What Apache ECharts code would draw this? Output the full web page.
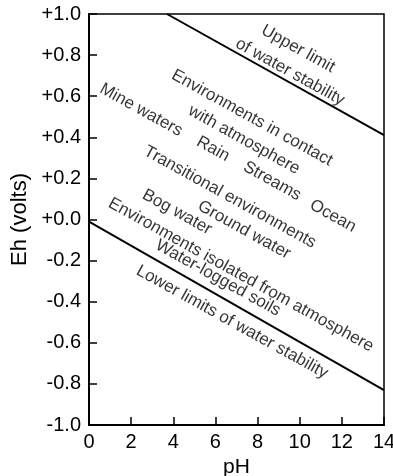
<!DOCTYPE html>
<html>
<head>
<meta charset="utf-8">
<script src="https://cdn.jsdelivr.net/npm/echarts@6/dist/echarts.min.js"></script>
<style>
  html, body { margin: 0; padding: 0; background: #fff; }
  #chart { width: 393px; height: 476px; }
</style>
</head>
<body>
<div id="chart"></div>
<script>
// Eh–pH field diagram for natural waters
var xTicks = [0, 2, 4, 6, 8, 10, 12, 14];
var yTicks = [-1.0, -0.8, -0.6, -0.4, -0.2, 0.0, 0.2, 0.4, 0.6, 0.8, 1.0];

// Stability limits of water: [pH, Eh]
var upperLimit = [[3.7, 1.0], [14, 0.41]];
var lowerLimit = [[0, -0.01], [14, -0.83]];

// Environment labels, anchored at [pH, Eh]
var labelTexts = [
  'Upper limit', 'of water stability',
  'Environments in contact', 'with atmosphere',
  'Mine waters', 'Rain', 'Streams', 'Ocean',
  'Transitional environments', 'Ground water', 'Bog water',
  'Environments isolated from atmosphere', 'Water-logged soils',
  'Lower limits of water stability'
];
var labelPH = [9.92, 9.54, 7.74, 7.36, 2.47, 5.89, 8.69, 11.58, 6.69, 7.36, 4.18, 7.21, 6.12, 6.79];
var labelEh = [0.83, 0.718, 0.494, 0.387, 0.533, 0.343, 0.187, 0.017, 0.109, -0.051, 0.036, -0.270, -0.285, -0.499];

var FONT = '"Liberation Sans", Arial, Helvetica, sans-serif';

var labelData = labelTexts.map(function (t, i) {
  return { value: [labelPH[i], labelEh[i]], name: t };
});

function fmtEh(v) {
  if (Math.abs(v) < 1e-9) return '+0.0';
  return (v > 0 ? '+' : '-') + Math.abs(v).toFixed(1);
}

var chart = echarts.init(document.getElementById('chart'), null, { renderer: 'canvas' });
chart.setOption({
  animation: false,
  backgroundColor: '#fff',
  grid: {
    left: 89, right: 9, top: 14, bottom: 51,
    outerBoundsMode: 'none', containLabel: false,
    show: true, borderColor: '#000', borderWidth: 1.5, backgroundColor: 'transparent'
  },
  xAxis: {
    type: 'value', min: xTicks[0], max: xTicks[xTicks.length - 1], interval: 2,
    name: 'pH', nameLocation: 'middle', nameGap: 32,
    nameTextStyle: { fontFamily: FONT, fontSize: 21, color: '#000' },
    axisLine: { show: true, onZero: false, lineStyle: { color: '#000', width: 2 } },
    axisTick: { show: true, inside: true, length: 8, lineStyle: { color: '#000', width: 1.5 } },
    axisLabel: { fontFamily: FONT, fontSize: 20, color: '#000', margin: 7 },
    splitLine: { show: false }
  },
  yAxis: {
    type: 'value', min: yTicks[0], max: yTicks[yTicks.length - 1], interval: 0.2,
    name: 'Eh (volts)', nameLocation: 'middle', nameGap: 53, nameRotate: 90,
    nameTextStyle: { fontFamily: FONT, fontSize: 22, color: '#000' },
    axisLine: { show: true, onZero: false, lineStyle: { color: '#000', width: 2 } },
    axisTick: { show: true, inside: true, length: 8, lineStyle: { color: '#000', width: 1.5 } },
    axisLabel: { fontFamily: FONT, fontSize: 20, color: '#000', margin: 8, formatter: fmtEh },
    splitLine: { show: false }
  },
  series: [
    {
      type: 'line', data: upperLimit, symbol: 'none', silent: true,
      lineStyle: { color: '#000', width: 2 }
    },
    {
      type: 'line', data: lowerLimit, symbol: 'none', silent: true,
      lineStyle: { color: '#000', width: 2 }
    },
    {
      type: 'scatter', data: labelData, symbolSize: 0, silent: true,
      label: {
        show: true, position: 'inside', rotate: -29,
        align: 'center', verticalAlign: 'middle',
        fontFamily: FONT, fontSize: 17, color: '#000',
        formatter: function (p) { return p.name; }
      }
    }
  ]
});
</script>
</body>
</html>
